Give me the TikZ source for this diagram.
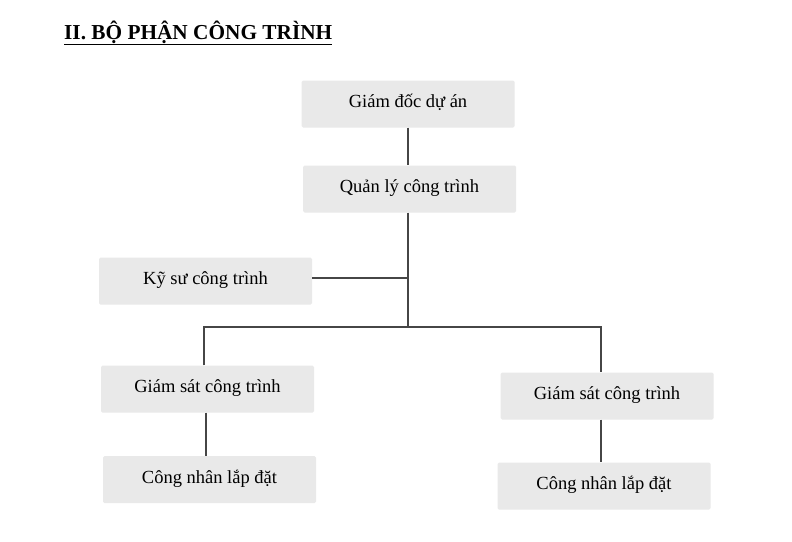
\documentclass[tikz,border=0pt]{standalone}
\usepackage{fontspec}
\setmainfont{Liberation Serif}
\definecolor{boxgray}{RGB}{233,233,233}
\definecolor{linegray}{RGB}{70,70,70}
\tikzset{
  unit/.style={fill=boxgray, rounded corners=1.5pt, minimum width=213pt, minimum height=47pt, inner sep=0pt, text height=12.5pt, text depth=5pt},
  link/.style={draw=linegray, line width=1.1pt}
}
\begin{document}
\begin{tikzpicture}[x=1pt, y=-1pt, font=\fontsize{18.5}{22}\selectfont]
  \useasboundingbox[fill=white] (0,0) rectangle (792,541);
  \node[anchor=base west, inner sep=0pt, font=\fontsize{21.3}{25}\selectfont\bfseries] (title) at (64,39) {\underline{II. BỘ PHẬN CÔNG TRÌNH}};

  \node[unit] (gd) at (408,104) {Giám đốc dự án};
  \node[unit] (ql) at (409.5,189) {Quản lý công trình};
  \node[unit] (ks) at (205.5,281) {Kỹ sư công trình};
  \node[unit] (gs1) at (207.5,389) {Giám sát công trình};
  \node[unit] (cn1) at (209.5,479.5) {Công nhân lắp đặt};
  \node[unit] (gs2) at (607,396) {Giám sát công trình};
  \node[unit] (cn2) at (604,486) {Công nhân lắp đặt};
  \coordinate (hub) at (408,327);

  \draw[link] (gd.south) -- (gd.south |- ql.north);
  \draw[link] (ql.south -| hub) -- (hub);
  \draw[link] (ks.east |- 0,278) -- (hub |- 0,278);
  \draw[link] (gs1.north -| 204,0) |- (hub) -| (gs2.north -| 601,0);
  \draw[link] (gs1.south -| 206,0) -- (cn1.north -| 206,0);
  \draw[link] (gs2.south -| 601,0) -- (cn2.north -| 601,0);
\end{tikzpicture}
\end{document}
